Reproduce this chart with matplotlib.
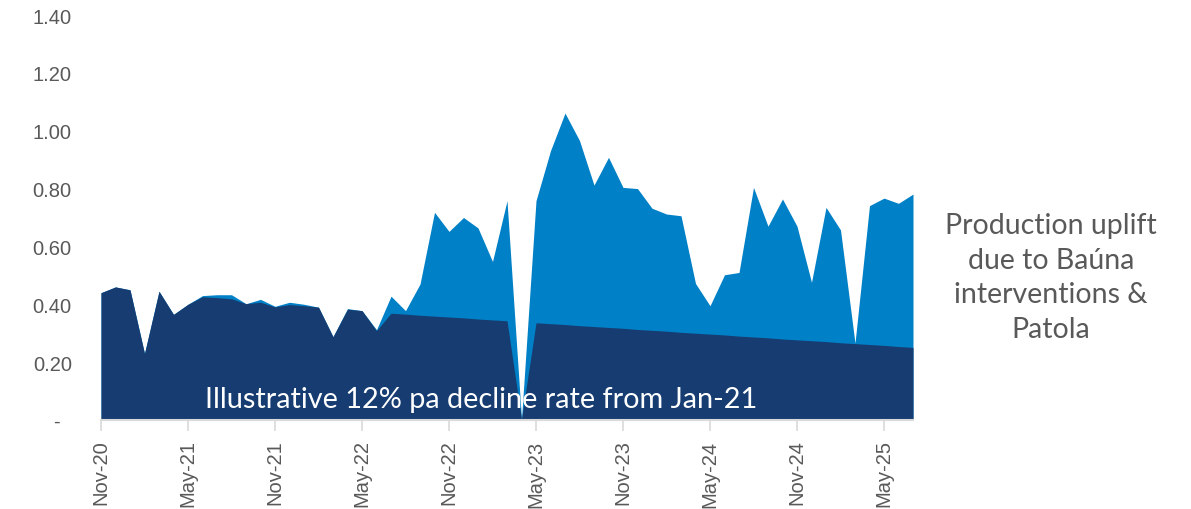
import matplotlib
matplotlib.use("Agg")
from matplotlib import pyplot as plt
import pandas as pd

# monthly production, Nov-20 .. Jul-25
months = pd.date_range("2020-11-01", "2025-07-01", freq="MS")

total = [0.44, 0.46, 0.45, 0.23, 0.445, 0.365, 0.40, 0.43, 0.433, 0.433,
         0.402, 0.417, 0.393, 0.407, 0.40, 0.39, 0.288, 0.385, 0.378, 0.312,
         0.428, 0.378, 0.47, 0.718, 0.652, 0.70, 0.664, 0.548, 0.758, 0.003,
         0.758, 0.931, 1.061, 0.966, 0.812, 0.908, 0.804, 0.80, 0.732, 0.712,
         0.706, 0.472, 0.395, 0.502, 0.51, 0.804, 0.67, 0.764, 0.67, 0.476,
         0.735, 0.657, 0.266, 0.741, 0.767, 0.749, 0.781]

# base production with illustrative 12% pa decline from Jan-21
base = [0.44, 0.46, 0.45, 0.23, 0.445, 0.365, 0.40, 0.426, 0.423, 0.419,
        0.402, 0.407, 0.391, 0.399, 0.395, 0.39, 0.288, 0.383, 0.378, 0.309,
        0.369, 0.366, 0.362, 0.359, 0.356, 0.353, 0.349, 0.346, 0.343, 0.003,
        0.336, 0.333, 0.330, 0.326, 0.323, 0.320, 0.317, 0.313, 0.310, 0.307,
        0.303, 0.300, 0.297, 0.294, 0.290, 0.287, 0.284, 0.280, 0.277, 0.274,
        0.271, 0.267, 0.264, 0.261, 0.258, 0.254, 0.251]

yticks = [0, 0.2, 0.4, 0.6, 0.8, 1.0, 1.2, 1.4]
ytick_labels = ["-  ", "0.20", "0.40", "0.60", "0.80", "1.00", "1.20", "1.40"]

light = "#0080C6"
dark = "#163C71"
grey = "#595959"

fig = plt.figure(figsize=(11.91, 5.10), dpi=100)
ax = fig.add_axes([101 / 1191, 1 - 421 / 510, (913 - 101) / 1191, (421 - 16) / 510])

x = list(range(len(months)))
ax.fill_between(x, 0, total, color=light, linewidth=0)
ax.fill_between(x, 0, base, color=dark, linewidth=0)

ax.set_xlim(0, len(months) - 1)
ax.set_ylim(0, 1.4)

ax.set_yticks(yticks)
ax.set_yticklabels(ytick_labels, fontfamily="Liberation Sans", fontsize=14.5, color=grey)
ax.tick_params(axis="y", length=0, pad=21)

xt = x[::6]
ax.set_xticks(xt)
ax.set_xticklabels([months[i].strftime("%b-%y") for i in xt], rotation=90,
                   fontfamily="Liberation Sans", fontsize=14.5, color=grey)
ax.tick_params(axis="x", length=8, width=1.2, color="#D9D9D9", pad=6)

for s in ["top", "right", "left"]:
    ax.spines[s].set_visible(False)
ax.spines["bottom"].set_color("#D9D9D9")
ax.spines["bottom"].set_linewidth(1.5)

ax.text(481 / 1191, 1 - 400 / 510, "Illustrative 12% pa decline rate from Jan-21",
        transform=fig.transFigure, ha="center", va="center", color="white",
        fontsize=20.8, fontfamily="Lato", zorder=5)

fig.text(1051 / 1191, 1 - 278 / 510,
         "Production uplift\ndue to Baúna\ninterventions &\nPatola",
         ha="center", va="center", color=grey, fontsize=20.5, fontfamily="Lato",
         linespacing=1.4)

fig.savefig("out.png", dpi=100)
